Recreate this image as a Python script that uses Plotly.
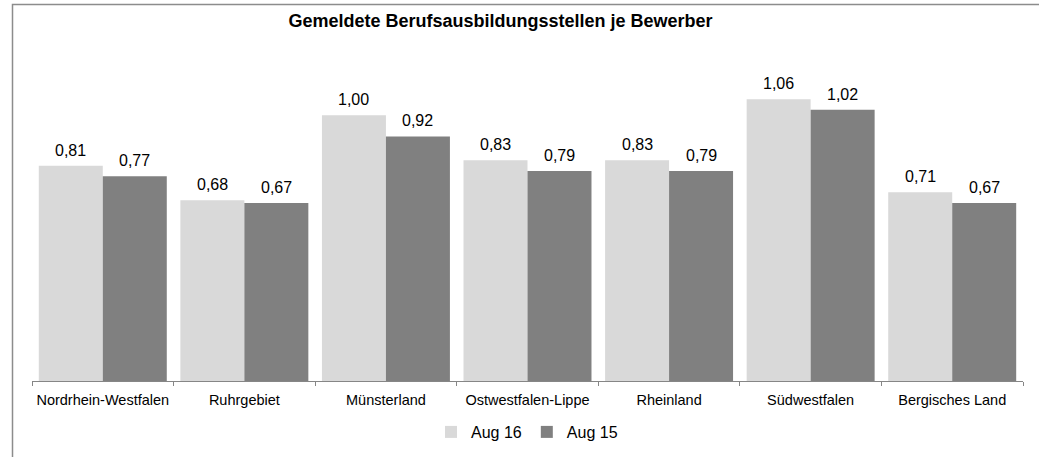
import plotly.graph_objects as go

categories = ["Nordrhein-Westfalen", "Ruhrgebiet", "Münsterland", "Ostwestfalen-Lippe",
              "Rheinland", "Südwestfalen", "Bergisches Land"]
aug16 = [0.81, 0.68, 1.00, 0.83, 0.83, 1.06, 0.71]
aug15 = [0.77, 0.67, 0.92, 0.79, 0.79, 1.02, 0.67]
series_names = ["Aug 16", "Aug 15"]
title_text = "Gemeldete Berufsausbildungsstellen je Bewerber"

W, H = 1039, 457
ML, MR, MT, MB = 32, 16, 62, 76
FONT = "Liberation Sans, Arial, sans-serif"

fig = go.Figure()
fig.add_trace(go.Bar(x=categories, y=aug16, name=series_names[0],
                     marker=dict(color="#D9D9D9", line=dict(width=0))))
fig.add_trace(go.Bar(x=categories, y=aug15, name=series_names[1],
                     marker=dict(color="#808080", line=dict(width=0))))

def fmt(v):
    return f"{v:.2f}".replace(".", ",")

annotations = []
for vals, shift in ((aug16, -32), (aug15, 32)):
    for c, v in zip(categories, vals):
        annotations.append(dict(x=c, y=v, xref="x", yref="y", text=fmt(v),
                                showarrow=False, xshift=shift, yshift=15.5,
                                font=dict(family=FONT, size=16, color="#000")))

pw = W - ML - MR
ph = H - MT - MB
fig.update_layout(
    width=W, height=H,
    margin=dict(l=ML, r=MR, t=MT, b=MB, autoexpand=False),
    paper_bgcolor="white", plot_bgcolor="white",
    barmode="group", bargap=0.096, bargroupgap=0,
    font=dict(family=FONT, size=14.5, color="#000"),
    showlegend=True,
    legend=dict(orientation="h", x=527 / W, xanchor="center", xref="container",
                y=1 - 432 / H, yref="container", yanchor="middle",
                bgcolor="rgba(0,0,0,0)",
                font=dict(family=FONT, size=16, color="#000"),
                itemwidth=30, traceorder="normal", tracegroupgap=0),
    xaxis=dict(showline=True, linecolor="#868686", linewidth=1,
               ticks="outside", ticklen=4, tickcolor="#868686", tickson="boundaries",
               ticklabelstandoff=6, tickangle=0, automargin=False,
               tickfont=dict(family=FONT, size=14.5, color="#000"), showgrid=False,
               zeroline=False),
    yaxis=dict(range=[0, 1.2], visible=False, showgrid=False, zeroline=False,
               automargin=False),
    annotations=annotations,
    shapes=[dict(type="rect", xref="paper", yref="paper",
                 x0=(12.5 - ML) / pw, x1=1.3, y0=-1.0, y1=(H - MB - 4.5) / ph,
                 line=dict(color="#8c8c8c", width=1.5), fillcolor="rgba(0,0,0,0)",
                 layer="below")],
    title=dict(text=f"<b>{title_text}</b>", x=500.5 / W, xanchor="center",
               y=1 - 21 / H, yanchor="middle", xref="container", yref="container",
               font=dict(family=FONT, size=18, color="#000")),
)

fig.write_html("out.html", config={"displayModeBar": False},
               post_script="document.body.style.margin='0px';")
